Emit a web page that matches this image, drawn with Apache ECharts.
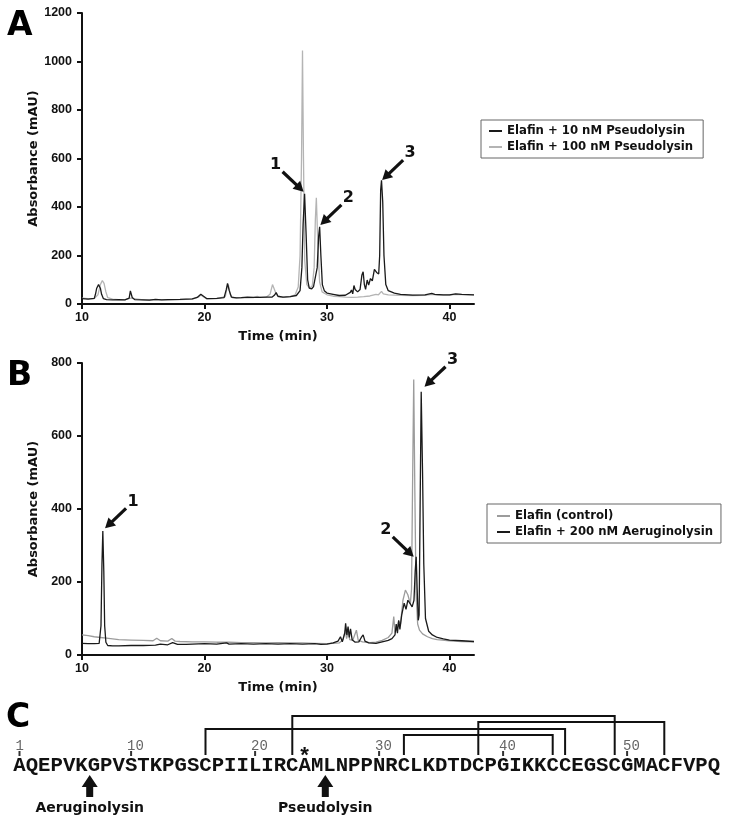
<!DOCTYPE html>
<html><head><meta charset="utf-8">
<script src="https://cdn.jsdelivr.net/npm/echarts@6/dist/echarts.min.js"></script>
<style>html,body{margin:0;padding:0;background:#fff}#c{width:729px;height:824px}</style>
</head><body><div id="c"></div>
<script>
// ---------- DATA ----------
// Panel A: [time (min), absorbance (mAU)]
const pseudolysin10nM = [[10,22],[10.5,20],[11,23],[11.1,40],[11.2,65],[11.35,80],[11.5,65],[11.6,40],[11.75,22],[12,18],[12.5,17],[13,18],[13.5,17],[13.85,24],[13.95,54],[14.1,27],[14.3,18],[15,17],[15.5,16],[16,19],[16.5,17],[17,18],[18,19],[19,21],[19.4,27],[19.7,40],[19.95,31],[20.2,22],[21,23],[21.6,26],[21.78,60],[21.88,85],[22.02,55],[22.2,28],[22.6,25],[23,26],[23.5,28],[24,27],[24.5,27],[25,28],[25.5,28],[25.7,36],[25.85,47],[26,32],[26.4,28],[27,30],[27.5,35],[27.8,55],[27.95,150],[28.05,330],[28.17,455],[28.3,280],[28.42,100],[28.55,65],[28.75,62],[28.9,72],[29.05,80],[29.2,150],[29.32,280],[29.4,318],[29.5,200],[29.62,80],[29.78,55],[30,45],[30.5,40],[31,35],[31.5,36],[31.9,48],[32,58],[32.1,42],[32.2,76],[32.3,60],[32.5,50],[32.7,60],[32.85,120],[32.95,133],[33.05,80],[33.15,60],[33.28,99],[33.4,78],[33.55,105],[33.7,95],[33.87,143],[34.05,130],[34.22,124],[34.3,200],[34.38,470],[34.45,510],[34.55,420],[34.65,200],[34.8,80],[35,55],[35.5,45],[36,40],[37,37],[38,38],[38.55,44],[38.8,40],[39.5,38],[40,38],[40.5,42],[41,40],[42,38]];
const pseudolysin100nM = [[10,24],[10.5,22],[11,22],[11.3,38],[11.5,80],[11.66,97],[11.8,85],[11.95,50],[12.1,26],[12.5,20],[13,18],[13.5,17],[13.95,24],[14.1,20],[15,17],[16,18],[17,17],[18,18],[19,20],[19.5,28],[19.7,37],[19.9,30],[20.2,21],[21,22],[21.7,30],[21.85,70],[21.95,80],[22.1,40],[22.3,25],[23,25],[24,26],[24.3,32],[24.5,27],[25,27],[25.35,40],[25.55,80],[25.68,88],[25.82,45],[26,30],[26.5,27],[27,30],[27.4,38],[27.65,70],[27.8,200],[27.92,600],[28,1045],[28.08,600],[28.18,180],[28.35,80],[28.6,65],[28.8,75],[28.95,150],[29.05,350],[29.13,438],[29.25,250],[29.4,90],[29.6,50],[30,38],[30.5,32],[31,30],[31.5,28],[32,27],[32.5,28],[33,30],[33.5,33],[34,40],[34.2,38],[34.45,52],[34.6,42],[35,38],[36,36],[37,35],[38,36],[38.6,40],[39,37],[40,37],[40.5,40],[41,39],[42,38]];
// Panel B
const elafinControl = [[10,55],[10.5,53],[11,50],[11.5,48],[12,46],[12.5,44],[13,42],[14,41],[15,40],[15.8,39],[16.1,46],[16.4,39],[17,38],[17.33,45],[17.6,38],[18,37],[19,36],[20,36],[21,35],[22,35],[23,34],[24,34],[25,33],[26,34],[27,33],[28,33],[29,32],[30,31],[30.5,32],[31,33],[31.3,42],[31.5,68],[31.6,45],[31.75,66],[31.85,42],[32.1,40],[32.4,68],[32.55,40],[32.9,36],[33.5,34],[34,35],[34.5,40],[35,48],[35.3,60],[35.45,105],[35.55,62],[35.7,70],[35.85,92],[36,85],[36.2,150],[36.4,178],[36.6,165],[36.8,140],[36.9,180],[36.98,450],[37.08,755],[37.17,450],[37.27,170],[37.4,85],[37.55,68],[37.8,58],[38.2,50],[38.6,45],[39,42],[40,39],[41,37],[42,36]];
const aeruginolysin200nM = [[10,32],[10.5,31],[11,31],[11.4,32],[11.55,80],[11.63,250],[11.7,340],[11.78,230],[11.85,80],[11.95,35],[12.1,26],[12.5,25],[13,25],[14,26],[15,26],[16,27],[16.4,30],[17,28],[17.4,34],[17.8,29],[18.5,29],[19,30],[20,31],[21,30],[21.8,33],[22,30],[23,31],[24,30],[25,31],[26,30],[27,31],[28,30],[29,31],[29.5,29],[30,30],[30.5,33],[30.9,38],[31.1,50],[31.25,36],[31.45,60],[31.52,87],[31.62,55],[31.72,78],[31.82,48],[31.92,72],[32.05,42],[32.3,35],[32.6,36],[32.8,48],[32.95,55],[33.1,38],[33.4,33],[34,32],[34.5,36],[35,40],[35.3,45],[35.55,55],[35.65,85],[35.75,60],[35.85,95],[35.95,70],[36.1,110],[36.3,142],[36.45,125],[36.6,150],[36.8,140],[36.95,132],[37.1,150],[37.2,230],[37.28,269],[37.36,180],[37.45,95],[37.52,110],[37.6,400],[37.69,721],[37.8,500],[37.9,250],[38.04,100],[38.3,65],[38.6,55],[39,48],[39.5,44],[40,41],[41,39],[42,37]];
// labelled peaks: [time, absorbance at arrow tip, label]
const peaksA = [[28.09,463,'1'],[29.46,326,'2'],[34.5,511,'3']];
const peaksB = [[11.88,347,'1'],[37.08,269,'2'],[37.96,735,'3']];
// tick labels
const timeTicks = [10,20,30,40];
const yTicksA = [0,200,400,600,800,1000,1200];
const yTicksB = [0,200,400,600,800];
// Panel C
const sequence = 'AQEPVKGPVSTKPGSCPIILIRCAMLNPPNRCLKDTDCPGIKKCCEGSCGMACFVPQ';
const residueMarks = [1,10,20,30,40,50];
const disulfides = [[16,45],[23,49],[32,44],[38,53]];
const cleavageAfter = [6,25];
const cleavageEnzymes = ['Aeruginolysin','Pseudolysin'];
const starredResidue = [24];

// ---------- LAYOUT / STYLE ----------
const TXT = '#111';
const arrowDirA = [-1,1,1], arrowDirB = [1,-1,1];
const bondLevelPx = [729,716,735,722];
const titleFont = {fontFamily:'DejaVu Sans', fontWeight:'bold', fontSize:13, color:TXT};
const tickFont = {fontFamily:'Liberation Sans', fontWeight:'bold', fontSize:12.5, color:TXT};

function axisX(gi){
  return {type:'value', gridIndex:gi, min:10, max:42, interval:10,
    name:'Time (min)', nameLocation:'middle', nameGap:26, nameTextStyle:titleFont, nameMoveOverlap:false,
    axisLine:{show:true, onZero:false, lineStyle:{color:TXT, width:2}},
    axisTick:{show:true, length:5, lineStyle:{color:TXT, width:2}, customValues:timeTicks},
    axisLabel:Object.assign({margin:7, customValues:timeTicks, formatter:v=>String(v)}, tickFont),
    splitLine:{show:false}};
}
function axisY(gi, max, ticks){
  return {type:'value', gridIndex:gi, min:0, max:max, interval:200,
    name:'Absorbance (mAU)', nameLocation:'middle', nameGap:42, nameRotate:90, nameTextStyle:titleFont, nameMoveOverlap:false,
    axisLine:{show:true, lineStyle:{color:TXT, width:2}},
    axisTick:{show:true, length:5, lineStyle:{color:TXT, width:2}, customValues:ticks},
    axisLabel:Object.assign({margin:10, customValues:ticks, formatter:v=>String(v)}, tickFont),
    splitLine:{show:false}};
}
function lineSeries(name, data, color, gi, z){
  return {type:'line', name, data, xAxisIndex:gi, yAxisIndex:gi, symbol:'none', color,
    lineStyle:{color, width:1.3}, z, animation:false, silent:true};
}
function peakArrows(peaks, dirs, gi){
  return {type:'custom', xAxisIndex:gi, yAxisIndex:gi, z:10, silent:true, animation:false,
    data: peaks.map(p=>[p[0],p[1]]),
    renderItem(params, api){
      const p = api.coord([api.value(0), api.value(1)]);
      const s = dirs[params.dataIndex];
      const tx = p[0]+s*21, ty = p[1]-20;
      const dx = p[0]-tx, dy = p[1]-ty, L = Math.hypot(dx,dy), ux = dx/L, uy = dy/L;
      const hl = 10, hw = 5.5;
      const bx = p[0]-ux*hl, by = p[1]-uy*hl;
      return {type:'group', children:[
        {type:'line', shape:{x1:tx,y1:ty,x2:bx+ux*2,y2:by+uy*2}, style:{stroke:TXT, lineWidth:3.2}},
        {type:'polygon', shape:{points:[[p[0],p[1]],[bx-uy*hw,by+ux*hw],[bx+uy*hw,by-ux*hw]]}, style:{fill:TXT}},
        {type:'text', x:p[0]+s*28, y:p[1]-27, style:{text:peaks[params.dataIndex][2], font:'bold 16px "DejaVu Sans"', fill:TXT, align:'center', verticalAlign:'middle'}}
      ]};
    }};
}
function seqSeries(data, render){
  return {type:'custom', xAxisIndex:2, yAxisIndex:2, silent:true, animation:false, clip:false, data, renderItem:render};
}
const xc = (api, r) => api.coord([r, 0])[0];

const legendText = {fontFamily:'DejaVu Sans', fontWeight:'bold', fontSize:11.7, color:TXT, lineHeight:14};
const option = {
  backgroundColor:'#fff',
  animation:false,
  grid:[
    {left:82, top:13, width:392, height:291},
    {left:82, top:363, width:392, height:292},
    {left:13.3, top:695, width:706.8, height:129}
  ],
  xAxis:[axisX(0), axisX(1), {type:'value', gridIndex:2, min:0.5, max:57.5, show:false}],
  yAxis:[axisY(0,1200,yTicksA), axisY(1,800,yTicksB), {type:'value', gridIndex:2, min:0, max:129, show:false}],
  legend:[
    {left:481, top:120, orient:'vertical', icon:'rect', itemWidth:13, itemHeight:2, itemGap:2,
     padding:[4,10,4,8], borderColor:'#666', borderWidth:1, textStyle:legendText,
     data:['Elafin + 10 nM Pseudolysin','Elafin + 100 nM Pseudolysin'], selectedMode:false},
    {left:487, top:504, orient:'vertical', icon:'rect', itemWidth:13, itemHeight:2, itemGap:2,
     padding:[5,8,4,10], borderColor:'#666', borderWidth:1, textStyle:legendText,
     data:['Elafin (control)','Elafin + 200 nM Aeruginolysin'], selectedMode:false}
  ],
  graphic:[
    {type:'text', x:7, y:26, style:{text:'A', font:'bold 33px "DejaVu Sans"', fill:'#000', verticalAlign:'middle'}},
    {type:'text', x:7, y:376, style:{text:'B', font:'bold 33px "DejaVu Sans"', fill:'#000', verticalAlign:'middle'}},
    {type:'text', x:6, y:718, style:{text:'C', font:'bold 33px "DejaVu Sans"', fill:'#000', verticalAlign:'middle'}}
  ],
  series:[
    lineSeries('Elafin + 100 nM Pseudolysin', pseudolysin100nM, '#b4b4b4', 0, 2),
    lineSeries('Elafin + 10 nM Pseudolysin', pseudolysin10nM, '#1a1a1a', 0, 3),
    peakArrows(peaksA, arrowDirA, 0),
    lineSeries('Elafin (control)', elafinControl, '#9c9c9c', 1, 2),
    lineSeries('Elafin + 200 nM Aeruginolysin', aeruginolysin200nM, '#1a1a1a', 1, 3),
    peakArrows(peaksB, arrowDirB, 1),
    // sequence letters
    seqSeries(sequence.split('').map((c,i)=>[i+1,0]), (params, api)=>({
      type:'text', x:xc(api, api.value(0)), y:766,
      style:{text:sequence[params.dataIndex], font:'bold 20.67px "Liberation Mono"', fill:TXT, align:'center', verticalAlign:'middle'}})),
    // residue numbering
    seqSeries(residueMarks.map(r=>[r,0]), (params, api)=>{
      const x = xc(api, api.value(0));
      return {type:'group', children:[
        {type:'line', shape:{x1:x,y1:751,x2:x,y2:756}, style:{stroke:'#333', lineWidth:2}},
        {type:'text', x:x-4, y:746, style:{text:String(residueMarks[params.dataIndex]), font:'14px "Liberation Mono"', fill:'#666', align:'left', verticalAlign:'middle'}}
      ]};
    }),
    // disulfide bonds
    seqSeries(disulfides, (params, api)=>{
      const a = xc(api, api.value(0)), b = xc(api, api.value(1)), lv = bondLevelPx[params.dataIndex];
      return {type:'polyline', shape:{points:[[a,755],[a,lv],[b,lv],[b,755]]}, style:{stroke:TXT, lineWidth:2, fill:null}};
    }),
    // starred residue
    seqSeries(starredResidue.map(r=>[r,0]), (params, api)=>({
      type:'text', x:xc(api, api.value(0)), y:757,
      style:{text:'*', font:'bold 22px "Liberation Mono"', fill:TXT, align:'center', verticalAlign:'middle'}})),
    // cleavage sites
    seqSeries(cleavageAfter.map(r=>[r+0.5,0]), (params, api)=>{
      const x = xc(api, api.value(0)) + 2;
      return {type:'group', children:[
        {type:'polygon', shape:{points:[[x,775],[x+8,787],[x+3.5,787],[x+3.5,797],[x-3.5,797],[x-3.5,787],[x-8,787]]}, style:{fill:TXT}},
        {type:'text', x:x, y:808, style:{text:cleavageEnzymes[params.dataIndex], font:'bold 14px "DejaVu Sans"', fill:TXT, align:'center', verticalAlign:'middle'}}
      ]};
    })
  ]
};
const chart = echarts.init(document.getElementById('c'), null, {renderer:'canvas'});
chart.setOption(option);
</script>
</body></html>
